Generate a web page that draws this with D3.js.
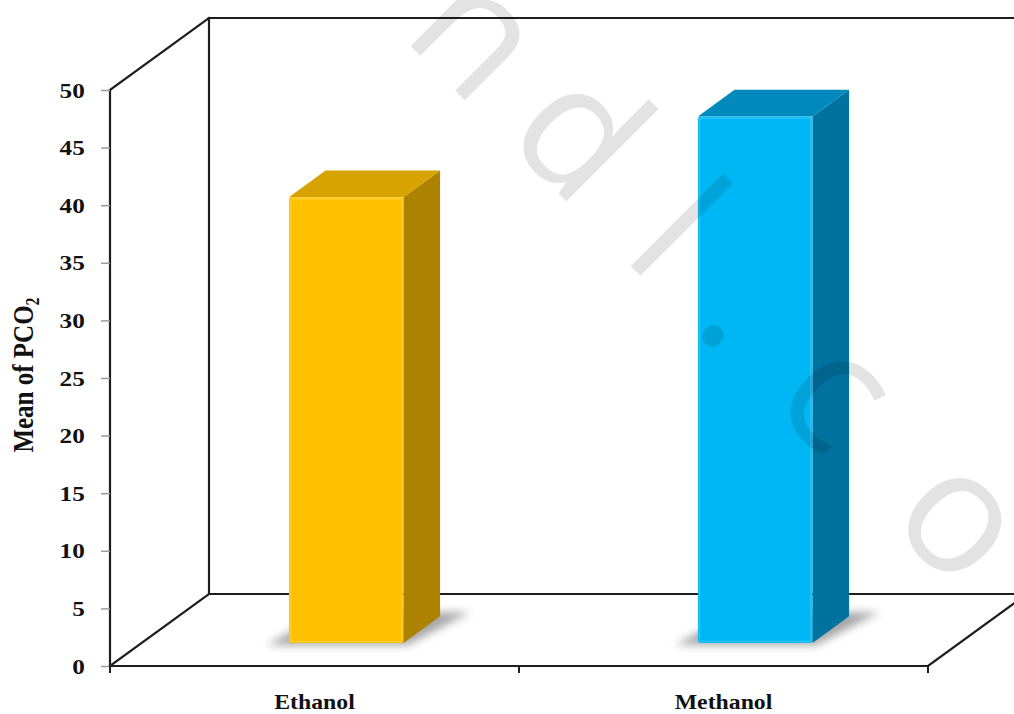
<!DOCTYPE html>
<html>
<head>
<meta charset="utf-8">
<script src="https://cdn.jsdelivr.net/npm/d3@7/dist/d3.min.js"></script>
<style>
  html, body { margin: 0; padding: 0; background: #fff; }
  svg { display: block; }
</style>
</head>
<body>
<svg id="chart" width="1014" height="714"></svg>
<script>
// Mean PCO2 by solvent
const categories = ["Ethanol", "Methanol"];
const values = [38.7, 45.7];
const yTicks = [0, 5, 10, 15, 20, 25, 30, 35, 40, 45, 50];
const frontColors = ["#FFC000", "#00B7F5"];
const sideColors = ["#AC8200", "#00729F"];
const topColors = ["#D7A300", "#0089BD"];
// watermark glyphs and their offsets along the rotated baseline
const markLetters = ["n", "d", "l", ".", "c", "o"];
const markOffsets = [361, 505, 641, 742, 870, 1046];

(function () {
  const svg = d3.select("#chart");

  // front plane of the 3D box
  const plotLeft = 110, plotRight = 928, plotBottom = 666, plotTop = 90;
  // oblique depth of the box (back wall offset)
  const DX = 99, DY = -72;
  // bars sit inside the depth: front at 32%, 37% deep
  const barFront = 0.32, barDepth = 0.37;

  const y = d3.scaleLinear().domain([0, 50]).range([plotBottom, plotTop]);
  const x = d3.scaleBand().domain(categories).range([plotLeft, plotRight]).padding(0);
  const barW = x.bandwidth() * 0.28;

  const defs = svg.append("defs");
  defs.append("filter").attr("id", "shadowBlur")
    .attr("x", "-20%").attr("y", "-50%").attr("width", "140%").attr("height", "200%")
    .append("feGaussianBlur").attr("stdDeviation", 4);

  const lineColor = "#1e1e1e";
  const frame = svg.append("g").attr("fill", "none").attr("stroke", lineColor)
    .attr("stroke-width", 2.2).attr("stroke-linecap", "square");

  const x0 = x.range()[0], x1 = x.range()[1];
  const y0 = y(0), y50 = y(50);
  const segs = [
    // back wall
    [[x0 + DX, y50 + DY], [x1 + DX, y50 + DY]],
    [[x0 + DX, y50 + DY], [x0 + DX, y0 + DY]],
    // floor back edge
    [[x0 + DX, y0 + DY], [x1 + DX, y0 + DY]],
    // side wall diagonals
    [[x0, y50], [x0 + DX, y50 + DY]],
    [[x0, y0], [x0 + DX, y0 + DY]],
    [[x1, y0], [x1 + DX, y0 + DY]]
  ];
  frame.selectAll("line.seg").data(segs).join("line").attr("class", "seg")
    .attr("x1", d => d[0][0]).attr("y1", d => d[0][1])
    .attr("x2", d => d[1][0]).attr("y2", d => d[1][1]);

  // bars
  const bars = svg.append("g");
  categories.forEach((c, i) => {
    const v = values[i];
    const fx = x(c) + x.bandwidth() / 2 - barW / 2 + barFront * DX;
    const fb = y(0) + barFront * DY;
    const ft = y(v) + barFront * DY;
    const ddx = barDepth * DX, ddy = barDepth * DY;
    const g = bars.append("g");

    // soft floor shadow
    g.append("path")
      .attr("d", `M${fx - 22},${fb + 2} L${fx + barW + 4},${fb + 2} L${fx + barW + ddx + 30},${fb + ddy - 4} L${fx + ddx},${fb + ddy - 4} Z`)
      .attr("fill", "#6a6a6a").attr("opacity", 0.6).attr("filter", "url(#shadowBlur)");

    // side face
    g.append("path")
      .attr("d", `M${fx + barW},${fb} L${fx + barW},${ft} L${fx + barW + ddx},${ft + ddy} L${fx + barW + ddx},${fb + ddy} Z`)
      .attr("fill", sideColors[i]);
    // top face
    g.append("path")
      .attr("d", `M${fx},${ft} L${fx + ddx},${ft + ddy} L${fx + barW + ddx},${ft + ddy} L${fx + barW},${ft} Z`)
      .attr("fill", topColors[i]);
    // front face
    g.append("rect")
      .attr("x", fx).attr("y", ft).attr("width", barW).attr("height", fb - ft)
      .attr("rx", 3).attr("fill", frontColors[i]);
    g.append("rect")
      .attr("x", fx + 1.5).attr("y", ft + 1.5).attr("width", barW - 3).attr("height", fb - ft - 3)
      .attr("rx", 2.5).attr("fill", "none").attr("stroke", "#fff").attr("stroke-opacity", 0.18)
      .attr("stroke-width", 1.5);
  });

  // front axes drawn over the floor
  const axisFront = svg.append("g").attr("stroke", lineColor).attr("stroke-width", 2.2);
  axisFront.append("line").attr("x1", x0).attr("y1", y0).attr("x2", x1).attr("y2", y0);
  axisFront.append("line").attr("x1", x0).attr("y1", y0).attr("x2", x0).attr("y2", y50);

  // y axis ticks and labels
  const yAxis = d3.axisLeft(y).tickValues(yTicks).tickSize(9).tickPadding(0);
  const yg = svg.append("g").attr("transform", `translate(${x0},0)`).call(yAxis);
  yg.select(".domain").remove();
  yg.selectAll(".tick line").attr("stroke", "#9a9a9a").attr("stroke-width", 1.5);
  yg.selectAll(".tick text")
    .attr("x", -21).attr("dy", "0.34em")
    .attr("transform", "scale(1.2,1)")
    .attr("fill", "#111")
    .style("font-family", "'Liberation Serif', 'Times New Roman', serif")
    .style("font-weight", "bold").style("font-size", "21px");

  // category ticks
  const bounds = [x0].concat(categories.map(c => x(c) + x.bandwidth()));
  svg.append("g").selectAll("line").data(bounds).join("line")
    .attr("x1", d => d).attr("x2", d => d).attr("y1", y0).attr("y2", y0 + 7)
    .attr("stroke", lineColor).attr("stroke-width", 2);

  // category labels
  svg.append("g").selectAll("text").data(categories).join("text")
    .attr("transform", d => `translate(${x(d) + x.bandwidth() / 2},709) scale(1.08,1)`)
    .attr("text-anchor", "middle")
    .attr("fill", "#111")
    .style("font-family", "'Liberation Serif', 'Times New Roman', serif")
    .style("font-weight", "bold").style("font-size", "22px")
    .text(d => d);

  // y axis title
  const title = svg.append("text")
    .attr("transform", "translate(33,375) scale(1.2,1) rotate(-90)")
    .attr("text-anchor", "middle")
    .attr("fill", "#111")
    .style("font-family", "'Liberation Serif', 'Times New Roman', serif")
    .style("font-weight", "bold").style("font-size", "25px");
  title.append("tspan").text("Mean of PCO");
  title.append("tspan").attr("dy", "0.3em").style("font-size", "16px").text("2");

  // diagonal watermark over the plot
  const wm = svg.append("g")
    .attr("transform", "translate(182.4,-182.4) rotate(45)")
    .attr("fill", "#000").attr("fill-opacity", 0.11)
    .style("font-family", "'Open Sans', 'DejaVu Sans', sans-serif")
    .style("font-weight", 400).style("font-size", "172px");
  wm.selectAll("text").data(markLetters).join("text")
    .attr("x", (d, i) => markOffsets[i]).attr("y", 0)
    .attr("text-anchor", "middle")
    .text(d => d);
})();
</script>
</body>
</html>
